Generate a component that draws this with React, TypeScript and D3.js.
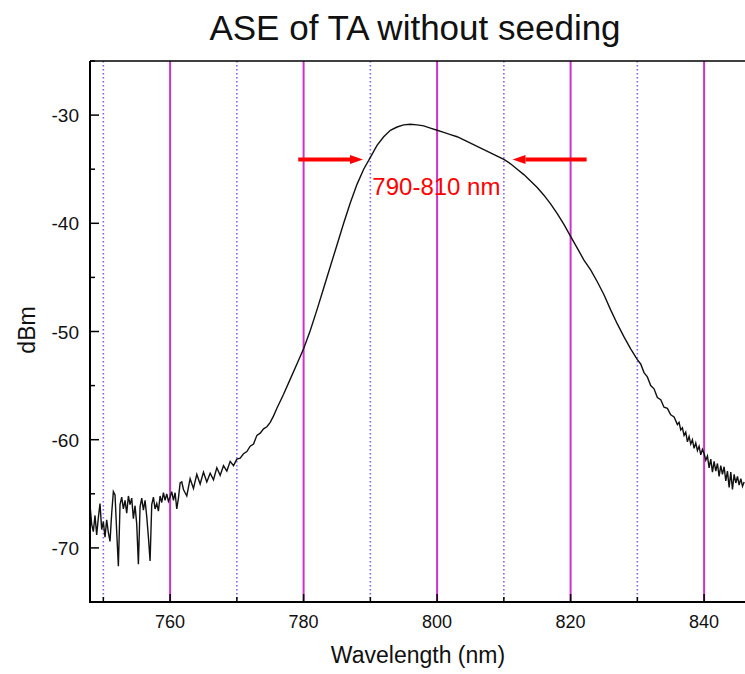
import React from "react";
import * as d3 from "d3";

const wavelengths: number[] = [
  748.0, 748.25, 748.5, 748.75, 749.0, 749.25, 749.5, 749.75, 750.0, 750.25, 750.5, 750.75,
  751.0, 751.25, 751.5, 751.75, 752.0, 752.25, 752.5, 752.75, 753.0, 753.25, 753.5, 753.75,
  754.0, 754.25, 754.5, 754.75, 755.0, 755.25, 755.5, 755.75, 756.0, 756.25, 756.5, 756.75,
  757.0, 757.25, 757.5, 757.75, 758.0, 758.25, 758.5, 758.75, 759.0, 759.25, 759.5, 759.75,
  760.0, 760.25, 760.5, 760.75, 761.0, 761.25, 761.5, 761.75, 762.0,
  762.5, 763.0, 763.5, 764.0, 764.5, 765.0, 765.5, 766.0, 766.5, 767.0, 767.5, 768.0, 768.5,
  769.0, 769.5, 770.0, 770.5, 771.0, 771.5, 772.0, 772.5, 773.0, 773.5, 774.0, 774.5, 775.0,
  775.5, 776.0,
  777, 778, 779, 780, 781, 782, 783, 784, 785, 786, 787, 788, 789, 790, 791, 792, 793, 794,
  795, 796, 797, 798, 799, 800, 801, 802, 803, 804, 805, 806, 807, 808, 809, 810, 811, 812,
  813, 814, 815, 816, 817, 818, 819, 820, 821, 822, 823, 824, 825, 826, 827, 828, 829, 830,
  830.5, 831, 831.5, 832, 832.5, 833, 833.5, 834, 834.5, 835, 835.5, 836,
  836.25, 836.5, 836.75, 837, 837.25, 837.5, 837.75, 838, 838.25, 838.5, 838.75, 839, 839.25,
  839.5, 839.75, 840, 840.25, 840.5, 840.75, 841, 841.25, 841.5, 841.75, 842, 842.25, 842.5,
  842.75, 843, 843.25, 843.5, 843.75, 844, 844.25, 844.5, 844.75, 845, 845.25, 845.5, 845.75, 846,
];

const powerDbm: number[] = [
  -66.0, -67.8, -68.5, -67.0, -68.8, -67.2, -65.9, -68.3, -67.6, -69.0, -67.4, -68.6,
  -69.4, -66.8, -64.8, -65.1, -68.5, -71.7, -66.0, -65.3, -66.4, -65.6, -66.8, -65.2,
  -66.0, -65.4, -67.3, -66.1, -67.8, -71.5, -66.2, -65.4, -66.5, -65.6, -67.1, -69.0,
  -71.2, -66.0, -65.3, -66.4, -65.9, -66.6, -65.2, -65.8, -64.9, -65.6, -65.0, -65.7,
  -65.3, -64.8, -65.6, -64.9, -66.4, -65.4, -64.0, -63.9, -64.6,
  -65.2, -63.6, -64.5, -63.2, -64.1, -63.0, -63.9, -63.1, -63.7, -62.6, -63.3, -62.4, -62.9,
  -62.0, -62.4, -61.8, -61.7, -61.3, -61.1, -60.6, -60.4, -59.6, -59.4, -59.0, -58.8, -58.4,
  -57.8, -57.1,
  -55.8, -54.4, -53.0, -51.6, -49.9, -48.0, -46.0, -44.0, -42.0, -40.0, -38.1, -36.4, -35.0,
  -33.9, -32.8, -32.0, -31.4, -31.1, -30.9, -30.85, -30.9, -31.0, -31.2, -31.4, -31.6, -31.8,
  -32.0, -32.3, -32.6, -32.9, -33.2, -33.5, -33.8, -34.1, -34.5, -35.0, -35.5, -36.1, -36.7,
  -37.4, -38.2, -39.1, -40.1, -41.2, -42.3, -43.4, -44.3, -45.4, -46.6, -48.0, -49.3, -50.5,
  -51.6, -52.6,
  -53.0, -53.8, -54.2, -55.0, -55.3, -56.1, -56.3, -57.0, -57.1, -57.7, -57.9, -58.6,
  -58.4, -59.1, -58.9, -59.6, -59.3, -60.2, -59.7, -60.4, -60.0, -60.8, -60.3, -61.0, -60.6,
  -61.4, -60.9, -61.3, -61.9, -61.5, -62.6, -61.8, -63.0, -62.0, -62.9, -62.2, -63.4, -62.4,
  -63.2, -62.5, -63.8, -62.9, -64.4, -63.0, -64.6, -63.2, -64.0, -63.4, -64.2, -63.6, -64.3, -63.9,
];

const xMajorTicks: number[] = [760, 780, 800, 820, 840];
const xMinorTicks: number[] = [750, 770, 790, 810, 830, 850];
const yMajorTicks: number[] = [-30, -40, -50, -60, -70];
const yMinorTicks: number[] = [-25, -35, -45, -55, -65, -75];

const bandStart = 790;
const bandEnd = 810;
const arrowLevel = -34.1;
const leftArrow: [number, number] = [779.2, 788.9];
const rightArrow: [number, number] = [822.4, 811.3];

const W = 745;
const H = 674;
const left = 90;
const top = 61;
const bottom = 602;

export default function App() {
  const x = d3.scaleLinear().domain([748, 850]).range([left, left + 6.675 * 102]);
  const y = d3.scaleLinear().domain([-75, -25]).range([bottom, top]);
  const data = wavelengths.map((w, i) => [w, powerDbm[i]] as [number, number]);
  const line = d3
    .line<[number, number]>()
    .x((d) => x(d[0]))
    .y((d) => y(d[1]));

  const font = "'Liberation Sans', Arial, sans-serif";
  const red = "#ff0000";
  const ay = y(arrowLevel);

  const arrow = (from: number, to: number) => {
    const x0 = x(from);
    const x1 = x(to);
    const dir = Math.sign(x1 - x0);
    const headLen = 13;
    const xb = x1 - dir * headLen;
    return (
      <g>
        <line x1={x0} y1={ay} x2={xb} y2={ay} stroke={red} strokeWidth={4} />
        <path d={`M${x1},${ay} L${xb},${ay - 4.5} L${xb},${ay + 4.5} Z`} fill={red} />
      </g>
    );
  };

  return (
    <svg
      width={W}
      height={H}
      style={{ position: "absolute", left: 0, top: 0, background: "#fff" }}
    >
      <defs>
        <clipPath id="plot">
          <rect x={left} y={top} width={W - left} height={bottom - top} />
        </clipPath>
      </defs>
      <rect x={0} y={0} width={W} height={H} fill="#fff" />
      <g clipPath="url(#plot)">
        {xMinorTicks.map((t) => (
          <line
            key={"gm" + t}
            x1={x(t)}
            x2={x(t)}
            y1={top}
            y2={bottom}
            stroke="#8a5ee0"
            strokeWidth={1.6}
            strokeDasharray="1.5,2.5"
          />
        ))}
        {xMajorTicks.map((t) => (
          <line
            key={"gM" + t}
            x1={x(t)}
            x2={x(t)}
            y1={top}
            y2={bottom}
            stroke="#cc33cc"
            strokeWidth={2}
          />
        ))}
        <path d={line(data) || ""} fill="none" stroke="#111" strokeWidth={1.4} />
      </g>
      {/* axes */}
      <line x1={left} x2={W} y1={top} y2={top} stroke="#000" strokeWidth={1.5} />
      <line x1={left} x2={W} y1={bottom} y2={bottom} stroke="#000" strokeWidth={2} />
      <line x1={left} x2={left} y1={top} y2={bottom + 1} stroke="#000" strokeWidth={2} />
      {xMajorTicks.map((t) => (
        <line key={"xt" + t} x1={x(t)} x2={x(t)} y1={bottom} y2={bottom - 8} stroke="#000" strokeWidth={1.5} />
      ))}
      {xMinorTicks.filter((t) => x(t) < W).map((t) => (
        <line key={"xm" + t} x1={x(t)} x2={x(t)} y1={bottom} y2={bottom - 5} stroke="#000" strokeWidth={1.5} />
      ))}
      {yMajorTicks.map((t) => (
        <line key={"yt" + t} x1={left} x2={left + 9} y1={y(t)} y2={y(t)} stroke="#000" strokeWidth={1.5} />
      ))}
      {yMinorTicks.map((t) => (
        <line key={"ym" + t} x1={left} x2={left + 5} y1={y(t)} y2={y(t)} stroke="#000" strokeWidth={1.5} />
      ))}
      {xMajorTicks.map((t) => (
        <text key={"xl" + t} x={x(t)} y={628} textAnchor="middle" fontFamily={font} fontSize={18} fill="#111">
          {t}
        </text>
      ))}
      {yMajorTicks.map((t) => (
        <text key={"yl" + t} x={79} y={y(t) + 7} textAnchor="end" fontFamily={font} fontSize={19} fill="#111">
          {t}
        </text>
      ))}
      <text x={418} y={663} textAnchor="middle" fontFamily={font} fontSize={23} fill="#111">
        Wavelength (nm)
      </text>
      <text
        transform={`translate(35, 330) rotate(-90)`}
        textAnchor="middle"
        fontFamily={font}
        fontSize={23}
        fill="#111"
      >
        dBm
      </text>
      <text x={415} y={40} textAnchor="middle" fontFamily={font} fontSize={35} fill="#111">
        ASE of TA without seeding
      </text>
      {arrow(leftArrow[0], leftArrow[1])}
      {arrow(rightArrow[0], rightArrow[1])}
      <text x={x(bandStart) + 2} y={ay + 36} fontFamily={font} fontSize={24} fill={red}>
        {`${bandStart}-${bandEnd} nm`}
      </text>
    </svg>
  );
}
